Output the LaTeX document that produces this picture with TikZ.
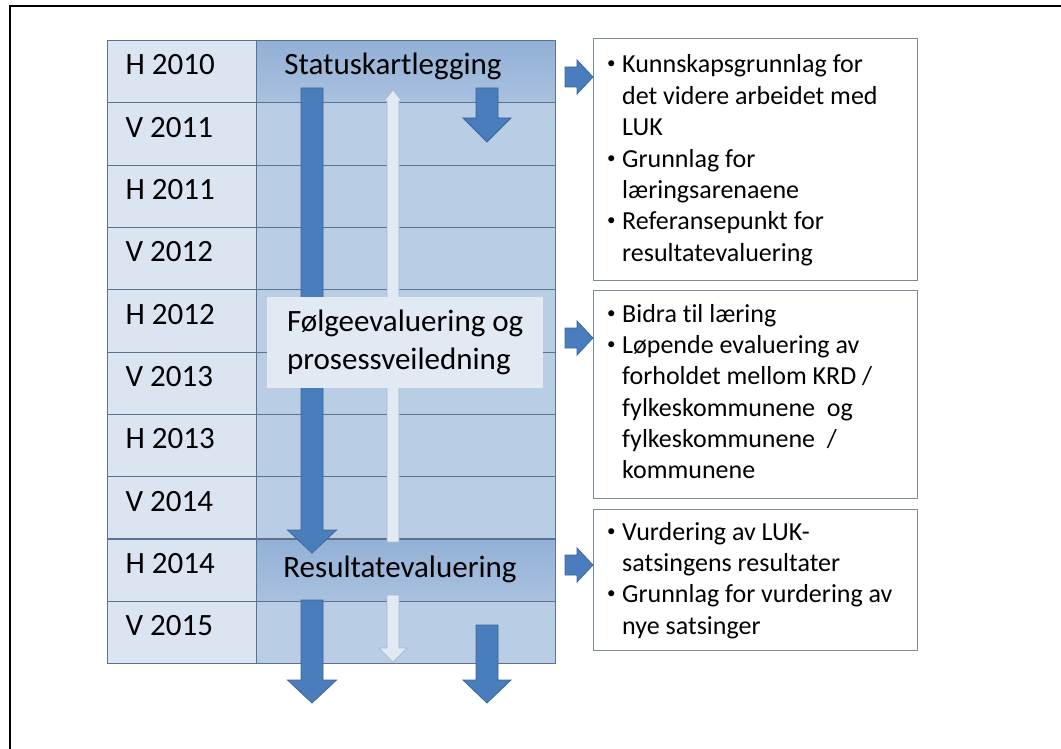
\documentclass[tikz,border=0pt]{standalone}
\usepackage{fontspec}
\setmainfont{Carlito}[Ligatures=CommonOff]
\usetikzlibrary{positioning}
\definecolor{yearfill}{HTML}{DBE5F1}
\definecolor{phasefill}{HTML}{B9CDE5}
\definecolor{headtop}{HTML}{92B0D6}
\definecolor{headbot}{HTML}{A9C1DF}
\definecolor{gridline}{HTML}{5B7291}
\definecolor{arrowfill}{HTML}{4A7DBB}
\definecolor{arrowedge}{HTML}{3A659C}
\definecolor{paleblue}{HTML}{E1E9F3}
\definecolor{paleedge}{HTML}{A3B8D2}
\definecolor{boxedge}{HTML}{7D8A99}
\newcommand{\rowh}{62.3}
\newcommand{\itm}{\makebox[15pt][l]{\raisebox{4pt}{\fontsize{17}{17}\selectfont\textbullet}}}
\newcommand{\ind}{\hspace*{15pt}}
\begin{document}
\begin{tikzpicture}[
        x=1pt, y=-1pt,
        cellbase/.style={draw=gridline, line width=1.1pt, inner sep=0pt, anchor=north west, minimum height=\rowh pt},
        yearcell/.style={cellbase, fill=yearfill, minimum width=149pt},
        phasecell/.style={cellbase, fill=phasefill, minimum width=299pt},
        headcell/.style={cellbase, top color=headtop, bottom color=headbot, minimum width=299pt},
        yearlab/.style={anchor=base west, font=\fontsize{31}{36}\selectfont},
        phaselab/.style={anchor=base, font=\fontsize{31}{37}\selectfont},
        folgebox/.style={fill=paleblue, inner sep=0pt, anchor=north west, minimum width=276pt, minimum height=91pt,
            align=left, font=\fontsize{31}{38}\selectfont},
        infobox/.style={draw=boxedge, line width=1.1pt, fill=white, inner sep=0pt, anchor=north west, minimum width=324pt},
        infotxt/.style={anchor=base west, inner sep=0pt, font=\fontsize{26}{31.4}\selectfont},
        % block arrow pointing down: length, half shaft, half head, head length
        pics/darr/.style n args={4}{code={
                \path[draw=arrowedge, fill=arrowfill, line width=0.8pt]
                (0,0) -- (-#3,-#4) -- (-#2,-#4) -- (-#2,-#1) -- (#2,-#1) -- (#2,-#4) -- (#3,-#4) -- cycle;
            }},
        pics/rarr/.style={code={
                \path[draw=arrowedge, fill=arrowfill, line width=0.8pt]
                (0,0) -- (-16,-17) -- (-16,-10) -- (-28,-10) -- (-28,10) -- (-16,10) -- (-16,17) -- cycle;
            }},
    ]
    \useasboundingbox (0,0) rectangle (1061,749);
    \draw[line width=2.2pt] (10,749) -- (10,6) -- (1061,6);

    % table of half years
    \foreach \lab/\sty [count=\i from 0] in {H 2010/headcell, V 2011/phasecell, H 2011/phasecell, V 2012/phasecell,
            H 2012/phasecell, V 2013/phasecell, H 2013/phasecell, V 2014/phasecell, H 2014/headcell, V 2015/phasecell}{
        \node[yearcell] (y\i) at (107, 40+\i*\rowh) {};
        \node[\sty] (p\i) at (256, 40+\i*\rowh) {};
        \node[yearlab] at (122, 75+\i*\rowh) {\lab};
    }

    % arrows in the table
    \pic at (312,553) {darr={465}{11}{24.5}{23}};
    \pic at (312,703) {darr={103}{11}{24.5}{23}};
    \pic at (487,142) {darr={54}{11}{24}{24}};
    \pic at (487,703) {darr={78}{11}{24}{23}};
    \path[draw=paleedge, fill=paleblue, line width=0.7pt]
    (393,90) -- (402,101) -- (399,101) -- (399,542) -- (387,542) -- (387,101) -- (384,101) -- cycle;
    \path[draw=paleedge, fill=paleblue, line width=0.7pt]
    (393,662) -- (407,648) -- (399,648) -- (399,595) -- (387,595) -- (387,648) -- (379,648) -- cycle;

    \node[phaselab] (stat) at (393,75) {Statuskartlegging};
    \node[phaselab] (res) at (400,577) {Resultatevaluering};
    \node[folgebox] (folge) at (267,297) {Følgeevaluering og\\prosessveiledning};

    % boxes on the right
    \node[infobox, minimum height=242pt] (box1) at (593,38) {};
    \node[infobox, minimum height=208pt] (box2) at (593,290) {};
    \node[infobox, minimum height=141pt] (box3) at (593,509) {};
    \pic at (box1.west |- 0,77) {rarr};
    \pic at (box2.west |- 0,338) {rarr};
    \pic at (box3.west |- 0,565) {rarr};

    \node[infotxt] (t1) at (607,73) {\begin{tabular}[t]{@{}l@{}}
            \itm Kunnskapsgrunnlag for\\ \ind det videre arbeidet med\\ \ind LUK\\
            \itm Grunnlag for\\ \ind læringsarenaene\\
            \itm Referansepunkt for\\ \ind resultatevaluering
        \end{tabular}};
    \node[infotxt] (t2) at (607,322) {\begin{tabular}[t]{@{}l@{}}
            \itm Bidra til læring\\
            \itm Løpende evaluering av\\ \ind forholdet mellom KRD /\\ \ind fylkeskommunene~ og\\
            \ind fylkeskommunene~ /\\ \ind kommunene
        \end{tabular}};
    \node[infotxt] (t3) at (607,540) {\begin{tabular}[t]{@{}l@{}}
            \itm Vurdering av LUK-\\ \ind satsingens resultater\\
            \itm Grunnlag for vurdering av\\ \ind nye satsinger
        \end{tabular}};
\end{tikzpicture}
\end{document}
